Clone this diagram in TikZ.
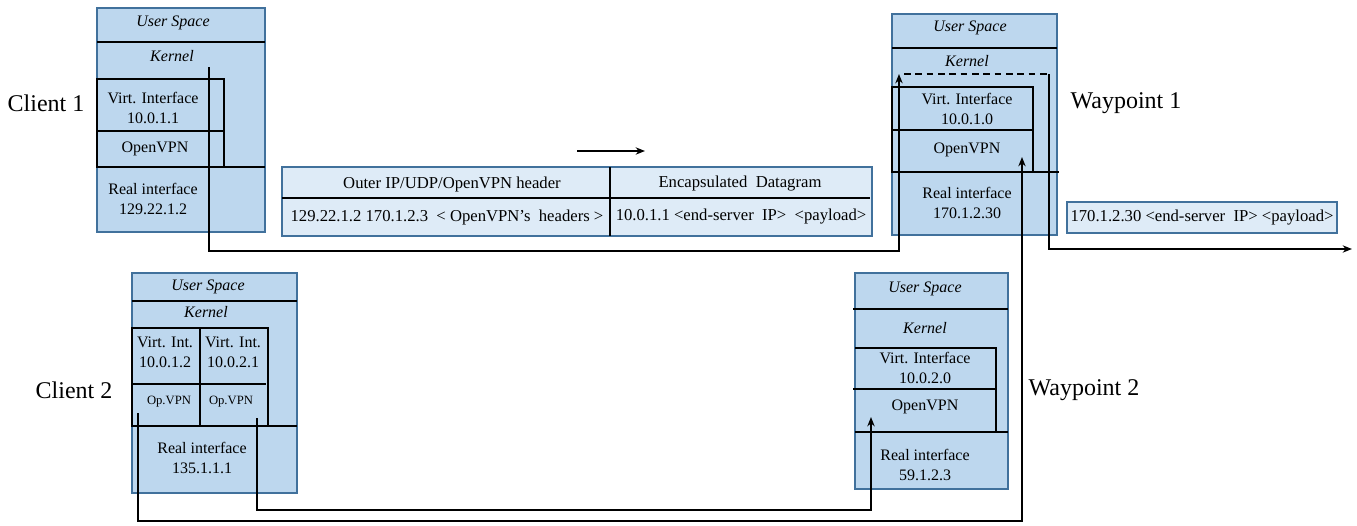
\documentclass[tikz,border=0pt]{standalone}
\usepackage{fontspec}
\setmainfont{Liberation Serif}
\usepackage{tikz}
\usetikzlibrary{arrows.meta,calc}
\definecolor{hostblue}{HTML}{BDD7EE}
\definecolor{hostedge}{HTML}{41719C}
\definecolor{pktblue}{HTML}{DEEBF7}
\tikzstyle{arrow} = [line width=1.1pt,-{Stealth[length=7pt,width=5.5pt]}]

\begin{document}
\begin{tikzpicture}
[x=0.75pt, y=-0.75pt,
hostbox/.style={draw=hostedge, fill=hostblue, line width=0.9pt},
pktbox/.style={draw=hostedge, fill=pktblue, line width=0.9pt},
layer/.style={black, line width=1pt},
txt/.style={inner sep=0pt, align=center, font=\fontsize{12}{15}\selectfont},
pkttxt/.style={inner sep=0pt, font=\fontsize{12.5}{15}\selectfont},
smalltxt/.style={inner sep=0pt, font=\fontsize{9.5}{11}\selectfont},
spacetxt/.style={inner sep=0pt, font=\fontsize{12}{15}\selectfont\itshape},
hostname/.style={inner sep=0pt, font=\fontsize{18}{21}\selectfont}]
\useasboundingbox (0,0) rectangle (1357,525);

% client 1
\draw[hostbox] (97,8) rectangle (265,232);
\draw[layer] (97,42) -- (265,42);
\draw[layer] (97,79) rectangle (224,167);
\draw[layer] (97,131) -- (224,131);
\draw[layer] (97,167) -- (265,167);
\node[spacetxt] (c1user) at (173,23) {User Space};
\node[spacetxt] (c1kernel) at (172,56) {Kernel};
\node[txt] (c1virt) at (153,108) {Virt. Interface\\10.0.1.1};
\node[txt] (c1vpn) at (155,149) {OpenVPN};
\node[txt] (c1real) at (153,199) {Real interface\\129.22.1.2};
\node[hostname] (client1) at (46,103) {Client 1};

% waypoint 1
\draw[hostbox] (892,14) rectangle (1057,235);
\draw[layer] (892,48) -- (1057,48);
\draw[layer] (892,87) rectangle (1033,172);
\draw[layer] (892,130) -- (1033,130);
\draw[layer] (892,172) -- (1059,172);
\node[spacetxt] (w1user) at (970,28) {User Space};
\node[spacetxt] (w1kernel) at (967,61) {Kernel};
\node[txt] (w1virt) at (967,109) {Virt. Interface\\10.0.1.0};
\node[txt] (w1vpn) at (967,150) {OpenVPN};
\node[txt] (w1real) at (967,203) {Real interface\\170.1.2.30};
\node[hostname] (waypoint1) at (1126,103) {Waypoint 1};

% packets
\draw[pktbox] (282,167) rectangle (872,236);
\draw[layer] (282,198) -- (870,198);
\draw[layer] (610,167) -- (610,236);
\node[pkttxt] (outerhdr) at (452,184) {Outer IP/UDP/OpenVPN header};
\node[pkttxt] (outerval) at (447,217) {129.22.1.2 170.1.2.3 \ < OpenVPN’s \ headers >};
\node[pkttxt] (innerhdr) at (740,184) {Encapsulated \ Datagram};
\node[pkttxt] (innerval) at (741,217) {10.0.1.1 <end-server \ IP> \ <payload>};
\draw[pktbox] (1067,202) rectangle (1337,233);
\node[pkttxt] (plainpkt) at (1202,218) {170.1.2.30 <end-server \ IP> <payload>};

% client 2
\draw[hostbox] (132,273) rectangle (297,493);
\draw[layer] (132,301) -- (297,301);
\draw[layer] (132,328) rectangle (268,426);
\draw[layer] (200,328) -- (200,426);
\draw[layer] (132,384) -- (266,384);
\draw[layer] (131,426) -- (297,426);
\node[spacetxt] (c2user) at (208,287) {User Space};
\node[spacetxt] (c2kernel) at (206,312) {Kernel};
\node[txt] (c2virta) at (165,352) {Virt. Int.\\10.0.1.2};
\node[txt] (c2virtb) at (233,352) {Virt. Int.\\10.0.2.1};
\node[smalltxt] (c2vpna) at (169,402) {Op.VPN};
\node[smalltxt] (c2vpnb) at (231,402) {Op.VPN};
\node[txt] (c2real) at (202,458) {Real interface\\135.1.1.1};
\node[hostname] (client2) at (74,390) {Client 2};

% waypoint 2
\draw[hostbox] (855,273) rectangle (1008,489);
\draw[layer] (853,309) -- (1008,309);
\draw[layer] (855,348) -- (996,348) -- (996,432);
\draw[layer] (853,389) -- (996,389);
\draw[layer] (855,432) -- (1008,432);
\node[spacetxt] (w2user) at (925,289) {User Space};
\node[spacetxt] (w2kernel) at (925,328) {Kernel};
\node[txt] (w2virt) at (925,368) {Virt. Interface\\10.0.2.0};
\node[txt] (w2vpn) at (925,407) {OpenVPN};
\node[txt] (w2real) at (925,465) {Real interface\\59.1.2.3};
\node[hostname] (waypoint2) at (1084,390) {Waypoint 2};

% tunnels
\coordinate (c1tun) at (209,67);
\coordinate (w1in) at (899,74);
\coordinate (w1turn) at (1049,74);
\coordinate (w1exit) at (1352,249);
\coordinate (c2tuna) at (138,413);
\coordinate (w1tun) at (1022,157);
\coordinate (c2tunb) at (257,418);
\coordinate (w2tun) at (871,417);
\coordinate (dirfrom) at (577,151);
\coordinate (dirto) at (645,151);
\draw[arrow] (c1tun) -- ++(0,184) -| (w1in);
\draw[line width=1.1pt, dash pattern=on 5pt off 3.5pt] ($(w1in)+(5,0)$) -- (w1turn);
\draw[arrow] (w1turn) |- (w1exit);
\draw[arrow] (c2tuna) -- ++(0,108) -| (w1tun);
\draw[arrow] (c2tunb) -- ++(0,92) -| (w2tun);
\draw[arrow] (dirfrom) -- (dirto);
\end{tikzpicture}
\end{document}
